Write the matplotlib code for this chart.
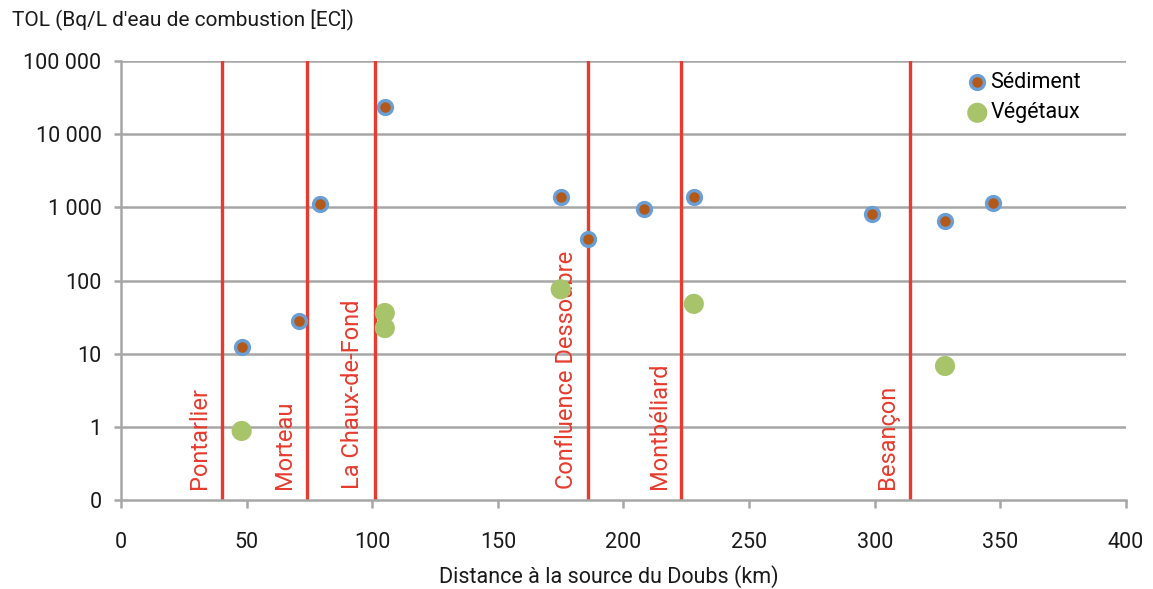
import numpy as np
import matplotlib
matplotlib.use('Agg')
import matplotlib.pyplot as plt
from matplotlib.ticker import FixedLocator, NullLocator

plt.rcParams['font.family'] = ['Roboto', 'DejaVu Sans']

# Sédiment
sed_km = [48, 71, 79, 105, 175, 186, 208, 228, 299, 328, 347]
sed_tol = [12.3, 28, 1110, 23500, 1380, 370, 950, 1380, 810, 650, 1150]

# Végétaux
veg_km = [48, 105, 105, 175, 228, 328]
veg_tol = [0.88, 36, 22.4, 76, 48, 6.8]

# Localités
towns = ['Pontarlier', 'Morteau', 'La Chaux-de-Fond', 'Confluence Dessoubre',
         'Montbéliard', 'Besançon']
town_km = [40, 74, 101, 186, 223, 314]

yticks = [0.1, 1, 10, 100, 1000, 10000, 100000]
ylabels = ['0', '1', '10', '100', '1 000', '10 000', '100 000']

red = '#E63B2E'
grey = '#A6A6A6'
txt = '#1A1A1A'

fig = plt.figure(figsize=(11.53, 5.89), dpi=100)
ax = fig.add_axes([0.105, 0.151, 0.8715, 0.7454])

ax.set_yscale('log')
ax.set_ylim(0.1, 100000)
ax.set_xlim(0, 400)
ax.yaxis.set_major_locator(FixedLocator(yticks))
ax.yaxis.set_minor_locator(NullLocator())
ax.set_yticklabels(ylabels)
ax.set_xticks(np.arange(0, 401, 50))

for y in yticks[1:]:
    ax.axhline(y, color=grey, lw=1.8, zorder=1)

for name, km in zip(towns, town_km):
    ax.axvline(km, color=red, lw=2.4, zorder=2)
    ax.text(km - 4.2, 0.143, name, rotation=90, color=red, fontsize=17,
            ha='right', va='bottom', zorder=3)

ax.scatter(sed_km, sed_tol, s=100, color='#B35A1A', edgecolors='#6A9FD6',
           linewidths=2.4, zorder=5, label='Sédiment')
ax.scatter(veg_km, veg_tol, s=210, color='#A8C46A', edgecolors='none',
           zorder=4, label='Végétaux')

for side in ['top', 'right']:
    ax.spines[side].set_visible(False)
for side in ['left', 'bottom']:
    ax.spines[side].set_color(grey)
    ax.spines[side].set_linewidth(1.8)
ax.tick_params(axis='both', colors=grey, labelcolor=txt, labelsize=15.5,
               width=1.8)
ax.tick_params(axis='x', length=6, pad=17)
ax.tick_params(axis='y', length=5, pad=9)

leg = ax.legend(loc='upper right', bbox_to_anchor=(0.968, 1.005), frameon=False,
                fontsize=15.5, handletextpad=0.0, borderaxespad=0.2,
                labelspacing=0.45, handlelength=1.2)

fig.text(0.010, 0.965, "TOL (Bq/L d'eau de combustion [EC])", fontsize=15,
         color=txt, ha='left', va='center')
ax.set_xlabel('Distance à la source du Doubs (km)', fontsize=15.5,
              color=txt)
ax.xaxis.set_label_coords(0.4856, -0.149)

fig.savefig('out.png', dpi=100)
